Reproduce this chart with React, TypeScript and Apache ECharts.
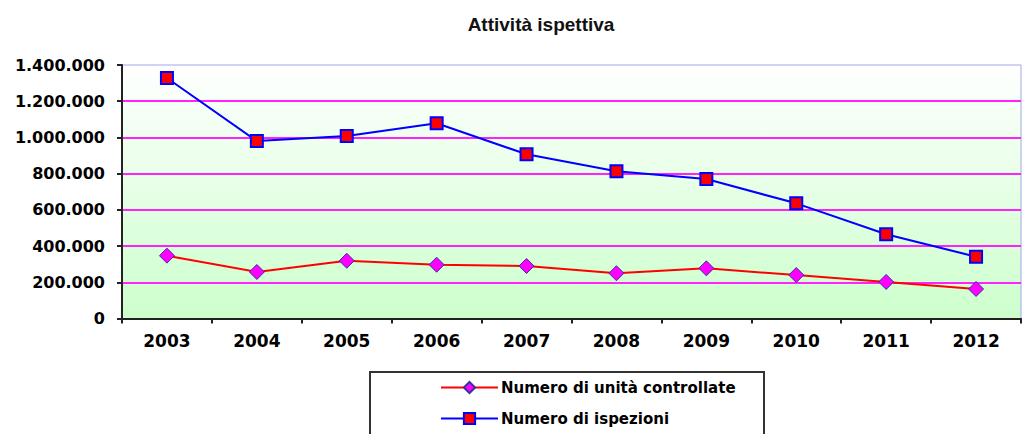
import React, { useEffect, useRef } from "react";
import * as echarts from "echarts";

const years = ["2003", "2004", "2005", "2006", "2007", "2008", "2009", "2010", "2011", "2012"];
const unitaControllate = [347000, 257000, 319000, 297000, 290000, 250000, 277000, 240000, 202000, 163000];
const ispezioni = [1328000, 980000, 1008000, 1078000, 907000, 813000, 770000, 636000, 465000, 341000];
const titleText = "Attività ispettiva";
const seriesNames = ["Numero di unità controllate", "Numero di ispezioni"];

function fmt(v: number): string {
  return String(Math.round(v)).replace(/\B(?=(\d{3})+(?!\d))/g, ".");
}

export default function App() {
  const ref = useRef<HTMLDivElement>(null);
  useEffect(() => {
    if (!ref.current) return;
    const chart = echarts.init(ref.current, null, { renderer: "svg" });
    chart.setOption({
      animation: false,
      backgroundColor: "#ffffff",
      title: {
        text: titleText,
        left: 536,
        textAlign: "center",
        top: 10,
        textStyle: { fontFamily: "Liberation Sans", fontWeight: "bold", fontSize: 19, color: "#111" },
      },
      grid: {
        left: 122,
        right: 2,
        top: 65,
        bottom: 115.5,
        show: true,
        borderColor: "#9fa8e8",
        borderWidth: 1,
        backgroundColor: new echarts.graphic.LinearGradient(0, 0, 0, 1, [
          { offset: 0, color: "#ffffff" },
          { offset: 1, color: "#ccffcc" },
        ]),
      },
      legend: {
        orient: "vertical",
        left: 440,
        top: 380,
        itemWidth: 57,
        itemHeight: 14,
        itemGap: 16,
        padding: 0,
        data: seriesNames,
        textStyle: { fontFamily: "DejaVu Sans", fontWeight: "bold", fontSize: 15, color: "#000", padding: [0, 0, 0, -2] },
      },
      graphic: [
        {
          type: "rect",
          shape: { x: 370, y: 372, width: 394, height: 90 },
          style: { fill: "none", stroke: "#333", lineWidth: 2 },
        },
      ],
      xAxis: {
        type: "category",
        data: years,
        boundaryGap: true,
        axisLine: { lineStyle: { color: "#222", width: 2 } },
        axisTick: { show: true, length: 5, lineStyle: { color: "#222", width: 2 } },
        axisLabel: { margin: 14, fontFamily: "DejaVu Sans", fontWeight: "bold", fontSize: 17, color: "#000" },
        splitLine: { show: false },
      },
      yAxis: {
        type: "value",
        min: 0,
        max: 1400000,
        interval: 200000,
        axisLine: { show: true, lineStyle: { color: "#222", width: 2 } },
        axisTick: { show: true, length: 5, lineStyle: { color: "#222", width: 2 } },
        axisLabel: {
          margin: 17,
          fontFamily: "DejaVu Sans",
          fontWeight: "bold",
          fontSize: 16,
          color: "#000",
          formatter: (v: number) => fmt(v),
        },
        splitLine: { show: true, showMinLine: false, showMaxLine: false, lineStyle: { color: "#ff22ff", width: 2 } },
      },
      series: [
        {
          name: seriesNames[0],
          type: "line",
          data: unitaControllate,
          symbol: "diamond",
          symbolSize: 15,
          lineStyle: { color: "#ff0000", width: 2 },
          itemStyle: { color: "#ff00ff", borderColor: "#333399", borderWidth: 1 },
        },
        {
          name: seriesNames[1],
          type: "line",
          data: ispezioni,
          symbol: "rect",
          symbolSize: 12,
          lineStyle: { color: "#0000ff", width: 2 },
          itemStyle: { color: "#ff0000", borderColor: "#0000ff", borderWidth: 2 },
        },
      ],
    });
    return () => chart.dispose();
  }, []);
  return <div ref={ref} style={{ position: "fixed", left: 0, top: 0, width: 1023, height: 434 }} />;
}
